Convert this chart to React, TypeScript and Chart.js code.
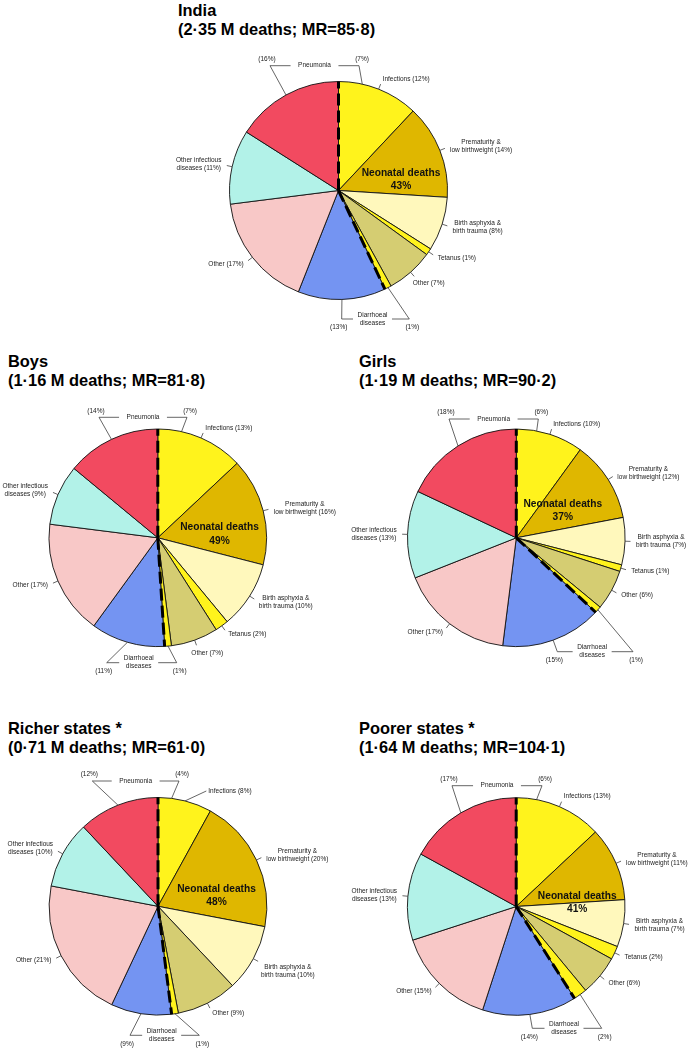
import React, { useEffect, useRef } from "react";
import { Chart, registerables } from "chart.js";

Chart.register(...registerables);

// ---------------- data ----------------
const sliceCauses = [
  "Infections",
  "Prematurity & low birthweight",
  "Birth asphyxia & birth trauma",
  "Tetanus",
  "Other (neonatal)",
  "Diarrhoeal diseases (neonatal)",
  "Diarrhoeal diseases",
  "Other",
  "Other infectious diseases",
  "Pneumonia",
];
const sliceLabelLines: (string[] | null)[] = [
  ["Infections"],
  ["Prematurity &", "low birthweight"],
  ["Birth asphyxia &", "birth trauma"],
  ["Tetanus"],
  ["Other"],
  null,
  null,
  ["Other"],
  ["Other infectious", "diseases"],
  null,
];
const sliceColors = [
  "#FFF31C",
  "#DFB700",
  "#FFF8BC",
  "#FFF31C",
  "#D5CD72",
  "#FFF31C",
  "#7494F2",
  "#F8C8C7",
  "#B2F2E8",
  "#F24A60",
];

const panelTitles = ["India", "Boys", "Girls", "Richer states *", "Poorer states *"];
const panelSubtitles = [
  "(2·35 M deaths; MR=85·8)",
  "(1·16 M deaths; MR=81·8)",
  "(1·19 M deaths; MR=90·2)",
  "(0·71 M deaths; MR=61·0)",
  "(1·64 M deaths; MR=104·1)",
];
const indiaShares = [12, 14, 8, 1, 7, 1, 13, 17, 11, 16];
const boysShares = [13, 16, 10, 2, 7, 1, 11, 17, 9, 14];
const girlsShares = [10, 12, 7, 1, 6, 1, 15, 17, 13, 18];
const richerShares = [8, 20, 10, 0, 9, 1, 9, 21, 10, 12];
const poorerShares = [13, 11, 7, 2, 6, 2, 14, 15, 13, 17];
const neonatalPneumoniaShares = [7, 7, 6, 4, 6];
const neonatalTotals = [43, 49, 37, 48, 41];
const panelShares = [indiaShares, boysShares, girlsShares, richerShares, poorerShares];
const NEONATAL_SLICES = 6;

// ---------------- layout (positions only) ----------------
type PanelLayout = {
  box: number[];
  center: number[];
  radius: number;
  title: number[];
  top: number[];
  bottom: number[];
  neo: number[];
  nudges: Record<number, number[]>;
  anchors: Record<number, number[]>;
};
const panelLayouts: PanelLayout[] = [
  { box: [120, 50, 440, 290], center: [338.5, 190.5], radius: 109, title: [178, 1],
    top: [-124.8, -68.5, 20.5], bottom: [128.5, 3.2, 70.8], neo: [62.5, -11],
    nudges: { 4: [-5, 3] }, anchors: {} },
  { box: [0, 395, 345, 290], center: [157.8, 537.8], radius: 108.8, title: [8, 351.5],
    top: [-120.5, -58.8, 29.2], bottom: [124.9, -51.1, 18.9], neo: [61.7, -3.7],
    nudges: { 4: [-7, 3] }, anchors: {} },
  { box: [345, 395, 345, 290], center: [516.3, 537.8], radius: 108.8, title: [359, 351.5],
    top: [-118.8, -67.3, 22], bottom: [113.9, 41, 116.7], neo: [46.5, -27.4],
    nudges: {}, anchors: {} },
  { box: [0, 765, 345, 285], center: [158, 906.3], radius: 108.8, title: [8, 719],
    top: [-125.3, -65.7, 21], bottom: [129, -28, 41.3], neo: [58.5, -10.3],
    nudges: { 2: [-2, 7] }, anchors: { 0: [50.3, -115.3] } },
  { box: [345, 765, 345, 285], center: [516.2, 906.5], radius: 108.8, title: [359, 719],
    top: [-120.8, -64.2, 25.8], bottom: [121.8, 16.1, 85.5], neo: [61, -3.5],
    nudges: {}, anchors: {} },
];

const FONT_FAMILY = '"Liberation Sans", Arial, sans-serif';
const LABEL_FONT = `6.5px ${FONT_FAMILY}`;
const NEO_FONT = `bold 10.2px ${FONT_FAMILY}`;
const LINE_H = 8;
const LEADER = "#333";
const TEXT = "#222";

function drawBlock(ctx: CanvasRenderingContext2D, lines: string[], x: number, y: number, align: string) {
  const widths = lines.map((l) => ctx.measureText(l).width);
  const bw = Math.max(...widths);
  const tx = align === "left" ? x + bw / 2 : align === "right" ? x - bw / 2 : x;
  ctx.textAlign = "center";
  ctx.textBaseline = "middle";
  lines.forEach((l, i) => ctx.fillText(l, tx, y + (i - (lines.length - 1) / 2) * LINE_H));
}

function seg(ctx: CanvasRenderingContext2D, x1: number, y1: number, x2: number, y2: number) {
  ctx.beginPath();
  ctx.moveTo(x1, y1);
  ctx.lineTo(x2, y2);
  ctx.stroke();
}

function makeAnnotationPlugin(idx: number) {
  const L = panelLayouts[idx];
  const shares = panelShares[idx];
  return {
    id: "pieAnnotations" + idx,
    afterDatasetsDraw(chart: any) {
      const ctx: CanvasRenderingContext2D = chart.ctx;
      const arcs = chart.getDatasetMeta(0).data as any[];
      const cx = arcs[0].x;
      const cy = arcs[0].y;
      const R = arcs[0].outerRadius;
      const pt = (a: number, rho: number) => [cx + rho * Math.cos(a), cy + rho * Math.sin(a)];
      const mid = (i: number) => (arcs[i].startAngle + arcs[i].endAngle) / 2;

      ctx.save();
      // dashed neonatal / postneonatal dividers
      ctx.strokeStyle = "#000";
      ctx.lineWidth = 3;
      ctx.lineCap = "butt";
      ctx.setLineDash([12, 5]);
      for (const a of [arcs[0].startAngle, arcs[NEONATAL_SLICES - 1].endAngle]) {
        const [ex, ey] = pt(a, R);
        seg(ctx, cx, cy, ex, ey);
      }
      ctx.setLineDash([]);

      // slice labels
      ctx.font = LABEL_FONT;
      ctx.fillStyle = TEXT;
      ctx.strokeStyle = LEADER;
      ctx.lineWidth = 0.75;
      sliceLabelLines.forEach((lines, i) => {
        if (!lines || shares[i] <= 0) return;
        const text = lines.slice();
        text[text.length - 1] = `${text[text.length - 1]} (${shares[i]}%)`;
        const a = mid(i);
        const [e1x, e1y] = pt(a, R);
        const anchor = L.anchors[i];
        if (anchor) {
          const ax = cx + anchor[0];
          const ay = cy + anchor[1];
          seg(ctx, e1x, e1y, ax - 2, ay);
          drawBlock(ctx, text, ax, ay, "left");
          return;
        }
        const [e2x, e2y] = pt(a, R * 1.05);
        seg(ctx, e1x, e1y, e2x, e2y);
        const nudge = L.nudges[i] || [0, 0];
        const [tx, ty] = pt(a, R * 1.1);
        drawBlock(ctx, text, tx + nudge[0], ty + nudge[1], Math.cos(a) >= 0 ? "left" : "right");
      });

      // top bracket: pneumonia (postneonatal | neonatal)
      {
        const y = cy + L.top[0];
        const lx = cx + L.top[1];
        const rx = cx + L.top[2];
        const last = arcs.length - 1;
        const [p1x, p1y] = pt(mid(last), R);
        const neoA = arcs[0].startAngle +
          ((arcs[0].endAngle - arcs[0].startAngle) * (neonatalPneumoniaShares[idx] / shares[0])) / 2;
        const [p2x, p2y] = pt(neoA, R);
        seg(ctx, p1x, p1y, lx, y);
        seg(ctx, p2x, p2y, rx, y);
        const tc = (lx + rx) / 2;
        const w = ctx.measureText("Pneumonia").width;
        seg(ctx, lx, y, tc - w / 2 - 7.5, y);
        seg(ctx, tc + w / 2 + 7.5, y, rx, y);
        drawBlock(ctx, ["Pneumonia"], tc, y, "center");
        drawBlock(ctx, [`(${shares[last]}%)`], lx - 3, y - 6.5, "center");
        drawBlock(ctx, [`(${neonatalPneumoniaShares[idx]}%)`], rx + 3, y - 6.5, "center");
      }

      // bottom bracket: diarrhoeal diseases (postneonatal | neonatal)
      {
        const y = cy + L.bottom[0];
        const lx = cx + L.bottom[1];
        const rx = cx + L.bottom[2];
        const post = NEONATAL_SLICES;
        const neo = NEONATAL_SLICES - 1;
        const [p1x, p1y] = pt(mid(post), R);
        const [p2x, p2y] = pt(mid(neo), R);
        seg(ctx, p1x, p1y, lx, y);
        seg(ctx, p2x, p2y, rx, y);
        const tc = (lx + rx) / 2 - 3;
        const lines = ["Diarrhoeal", "diseases"];
        const w = Math.max(...lines.map((l) => ctx.measureText(l).width));
        seg(ctx, lx, y, tc - w / 2 - 4.5, y);
        seg(ctx, tc + w / 2 + 4.5, y, rx, y);
        drawBlock(ctx, lines, tc, y, "center");
        drawBlock(ctx, [`(${shares[post]}%)`], lx - 3, y + 8.5, "center");
        drawBlock(ctx, [`(${shares[neo]}%)`], rx + 3, y + 8.5, "center");
      }

      // neonatal total
      ctx.font = NEO_FONT;
      ctx.fillStyle = "#111";
      ctx.textAlign = "center";
      ctx.textBaseline = "middle";
      ctx.fillText("Neonatal deaths", cx + L.neo[0], cy + L.neo[1] - 6.6);
      ctx.fillText(`${neonatalTotals[idx]}%`, cx + L.neo[0], cy + L.neo[1] + 6.6);
      ctx.restore();
    },
  };
}

function PiePanel({ idx }: { idx: number }) {
  const ref = useRef<HTMLCanvasElement>(null);
  const L = panelLayouts[idx];
  const [bl, bt, bw, bh] = L.box;
  useEffect(() => {
    if (!ref.current) return;
    const px = L.center[0] - bl;
    const py = L.center[1] - bt;
    const S = 60;
    const chart = new Chart(ref.current, {
      type: "pie",
      data: {
        labels: sliceCauses,
        datasets: [
          {
            data: panelShares[idx],
            backgroundColor: sliceColors,
            borderColor: "#111",
            borderWidth: 0.9,
            radius: L.radius,
          } as any,
        ],
      },
      options: {
        responsive: false,
        animation: false,
        radius: L.radius,
        events: [],
        layout: {
          padding: { left: px - S, right: bw - px - S, top: py - S, bottom: bh - py - S },
        },
        plugins: { legend: { display: false }, tooltip: { enabled: false } },
      } as any,
      plugins: [makeAnnotationPlugin(idx)],
    });
    return () => chart.destroy();
  }, [idx]);
  return (
    <canvas
      ref={ref}
      width={bw}
      height={bh}
      style={{ position: "absolute", left: bl, top: bt, width: bw, height: bh }}
    />
  );
}

function Title({ idx }: { idx: number }) {
  const [x, y] = panelLayouts[idx].title;
  return (
    <div
      style={{
        position: "absolute",
        left: x,
        top: y,
        font: `bold 16.4px ${FONT_FAMILY}`,
        lineHeight: "19px",
        color: "#000",
        whiteSpace: "pre",
      }}
    >
      <div>{panelTitles[idx]}</div>
      <div>{panelSubtitles[idx]}</div>
    </div>
  );
}

export default function App() {
  return (
    <div
      style={{
        position: "fixed",
        left: 0,
        top: 0,
        width: 690,
        height: 1050,
        background: "#fff",
        overflow: "hidden",
      }}
    >
      {panelTitles.map((_, i) => (
        <React.Fragment key={i}>
          <Title idx={i} />
          <PiePanel idx={i} />
        </React.Fragment>
      ))}
    </div>
  );
}
